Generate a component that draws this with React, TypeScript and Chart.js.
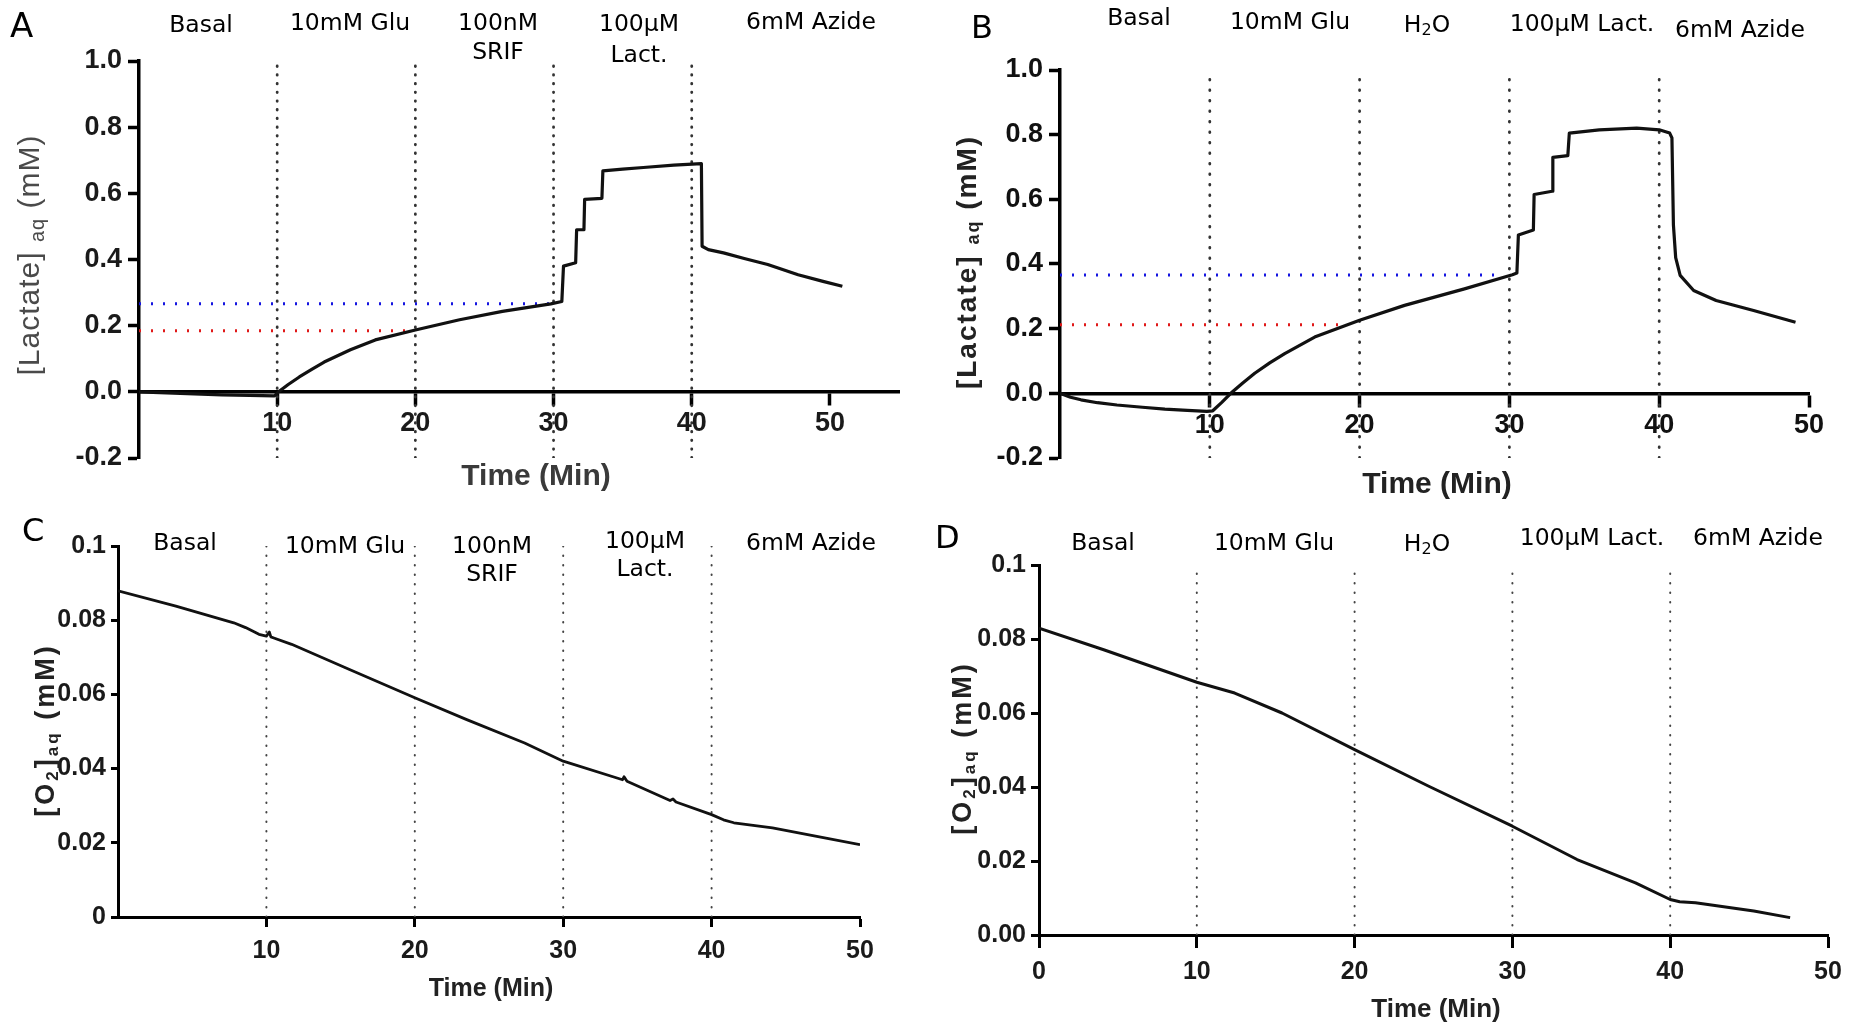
import React, { useEffect, useRef } from 'react';
import { Chart, registerables } from 'chart.js';
Chart.register(...registerables);

// ---------------- DATA ----------------
const timeA = [0, 2, 4, 6, 8, 9.8, 10.1, 10.8, 11.6, 12.5, 13.4, 15.3, 17.1, 20, 23.2, 26.3, 29.8, 30.6, 30.72, 31.6, 31.67, 32.2, 32.25, 33.5, 33.57, 35, 36.5, 38.7, 40.7, 40.75, 41.2, 42.3, 43.8, 45.5, 47.7, 49.5, 50.9];
const lactateA = [0, -0.003, -0.006, -0.009, -0.011, -0.012, 0, 0.022, 0.045, 0.068, 0.09, 0.127, 0.157, 0.187, 0.218, 0.243, 0.266, 0.273, 0.38, 0.39, 0.49, 0.49, 0.582, 0.585, 0.668, 0.673, 0.678, 0.685, 0.69, 0.44, 0.43, 0.42, 0.403, 0.385, 0.354, 0.334, 0.319];

const timeB = [0, 0.7, 1.4, 2.5, 3.8, 5.5, 7, 8.5, 9.8, 10.2, 10.8, 11.4, 12.2, 13, 14, 15, 17, 20, 23, 27, 30.2, 30.5, 30.6, 31.6, 31.65, 32.85, 32.9, 33.9, 34, 36, 38.5, 40, 40.7, 40.85, 40.95, 41.1, 41.4, 42.3, 43.8, 46.3, 49.1];
const lactateB = [0, -0.012, -0.02, -0.029, -0.036, -0.043, -0.049, -0.053, -0.056, -0.054, -0.028, 0, 0.032, 0.062, 0.094, 0.123, 0.174, 0.226, 0.272, 0.323, 0.367, 0.372, 0.49, 0.505, 0.615, 0.625, 0.73, 0.735, 0.805, 0.815, 0.82, 0.815, 0.805, 0.79, 0.52, 0.42, 0.365, 0.318, 0.287, 0.256, 0.22];

const timeC = [0, 3.9, 7.8, 8.6, 9.5, 10, 10.2, 10.3, 10.5, 11.7, 15.6, 20, 23.5, 27.4, 30, 34, 34.1, 34.3, 37.2, 37.4, 37.6, 40, 40.8, 41.5, 44.1, 47, 50];
const oxygenC = [0.0879, 0.0838, 0.0793, 0.078, 0.0762, 0.0757, 0.0768, 0.0755, 0.0752, 0.0735, 0.0667, 0.0591, 0.0532, 0.0469, 0.042, 0.037, 0.0378, 0.0366, 0.0314, 0.0318, 0.031, 0.0276, 0.0262, 0.0254, 0.024, 0.0218, 0.0195];

const timeD = [0, 4.1, 10, 12.4, 15.4, 20, 24.7, 30, 34.1, 37.8, 40, 40.6, 41.6, 45.3, 47.6];
const oxygenD = [0.0829, 0.0771, 0.0683, 0.0654, 0.06, 0.0501, 0.0402, 0.0294, 0.0204, 0.0141, 0.0096, 0.009, 0.0087, 0.0065, 0.0047];

const markerTimes = [10, 20, 30, 40];
const xTicksNoZero = [10, 20, 30, 40, 50];
const xTicksWithZero = [0, 10, 20, 30, 40, 50];
const lactateRange = [-0.2, 1.0];
const oxygenRange = [0, 0.1];
const yTicksLactate = [-0.2, 0, 0.2, 0.4, 0.6, 0.8, 1.0];
const yLabelsLactate = ['-0.2', '0.0', '0.2', '0.4', '0.6', '0.8', '1.0'];
const yTicksO2 = [0, 0.02, 0.04, 0.06, 0.08, 0.1];
const yLabelsO2C = ['0', '0.02', '0.04', '0.06', '0.08', '0.1'];
const yLabelsO2D = ['0.00', '0.02', '0.04', '0.06', '0.08', '0.1'];

// reference (dotted) levels: [level, end time]
const blueRefA = [0.266, 30.0];
const redRefA = [0.185, 19.4];
const blueRefB = [0.366, 29.4];
const redRefB = [0.212, 18.9];

// ---------------- DRAW HELPERS ----------------
type Seg = { t: string; size?: number; dy?: number };
type TextItem = {
  segs: Seg[]; x: number; y: number; size: number; family: string; weight?: string;
  color?: string; align?: 'left' | 'center'; rotate?: boolean; spacing?: number;
};

const SANS = '"DejaVu Sans", Verdana, sans-serif';
const ARIAL = '"Liberation Sans", Arial, sans-serif';

function drawRich(ctx: CanvasRenderingContext2D, it: TextItem) {
  ctx.save();
  ctx.fillStyle = it.color || '#000';
  ctx.textBaseline = 'alphabetic';
  ctx.textAlign = 'left';
  (ctx as any).letterSpacing = (it.spacing || 0) + 'px';
  const fontOf = (s: Seg) => `${it.weight || 'normal'} ${s.size ?? it.size}px ${it.family}`;
  let total = 0;
  const widths = it.segs.map((s) => {
    ctx.font = fontOf(s);
    const w = ctx.measureText(s.t).width;
    total += w;
    return w;
  });
  ctx.translate(it.x, it.y);
  if (it.rotate) ctx.rotate(-Math.PI / 2);
  let cx = it.align === 'left' ? 0 : -total / 2;
  it.segs.forEach((s, i) => {
    ctx.font = fontOf(s);
    ctx.fillText(s.t, cx, s.dy ?? 0);
    cx += widths[i];
  });
  ctx.restore();
}

const label = (t: string, x: number, y: number): TextItem => ({ segs: [{ t }], x, y, size: 23.5, family: SANS });
const h2o = (x: number, y: number): TextItem => ({ segs: [{ t: 'H' }, { t: '2', size: 16, dy: 3 }, { t: 'O' }], x, y, size: 23.5, family: SANS });
const letter = (t: string, x: number, y: number, size: number): TextItem => ({ segs: [{ t }], x, y, size, family: SANS, align: 'left' });

type Panel = {
  left: number; top: number; w: number; h: number;
  area: { l: number; t: number; r: number; b: number };
  time: number[]; values: number[];
  xMax: number; xTicks: number[];
  yRange: number[]; yTicks: number[]; yLabels: string[];
  tickSize: number; tickColor: string; axisW: number; xTickLen: number; yTickLen: number; xPad: number; yPad: number;
  lineW: number; markerW: number; markerDash: number[]; markerColor: string;
  refs: { lv: number[]; color: string }[];
  texts: TextItem[];
};

const W = 927, H = 513;

const panels: Panel[] = [
  {
    left: 0, top: 0, w: W, h: H,
    area: { l: 139, t: 61, r: 899, b: 458 },
    time: timeA, values: lactateA, xMax: 55, xTicks: xTicksNoZero,
    yRange: lactateRange, yTicks: yTicksLactate, yLabels: yLabelsLactate,
    tickSize: 27, tickColor: '#1a1a1a', axisW: 3.5, xTickLen: 12, yTickLen: 11, xPad: 4, yPad: 6,
    lineW: 3.2, markerW: 2.8, markerDash: [0.5, 8.2], markerColor: '#333',
    refs: [{ lv: blueRefA, color: '#1515e0' }, { lv: redRefA, color: '#e01818' }],
    texts: [
      letter('A', 10, 37, 34),
      label('Basal', 201, 32), label('10mM Glu', 350, 30), label('100nM', 498, 30), label('SRIF', 498, 59),
      label('100µM', 639, 31), label('Lact.', 639, 62), label('6mM Azide', 811, 29),
      { segs: [{ t: 'Time (Min)' }], x: 536, y: 485, size: 30, family: ARIAL, weight: 'bold', color: '#3a3a3a' },
      { segs: [{ t: '[Lactate]' }, { t: ' ' }, { t: 'aq', size: 20, dy: 5 }, { t: ' (mM)' }], x: 39, y: 255, size: 30, family: ARIAL, color: '#4a4a4a', rotate: true, spacing: 1 },
    ],
  },
  {
    left: 927, top: 0, w: W, h: H,
    area: { l: 133, t: 70, r: 882, b: 458 },
    time: timeB, values: lactateB, xMax: 50, xTicks: xTicksNoZero,
    yRange: lactateRange, yTicks: yTicksLactate, yLabels: yLabelsLactate,
    tickSize: 27, tickColor: '#111', axisW: 3.5, xTickLen: 12, yTickLen: 11, xPad: 4, yPad: 6,
    lineW: 3.2, markerW: 2.8, markerDash: [0.5, 10], markerColor: '#333',
    refs: [{ lv: blueRefB, color: '#1515e0' }, { lv: redRefB, color: '#e01818' }],
    texts: [
      letter('B', 44, 38, 32),
      label('Basal', 212, 25), label('10mM Glu', 363, 29), h2o(500, 32), label('100µM Lact.', 655, 31), label('6mM Azide', 813, 37),
      { segs: [{ t: 'Time (Min)' }], x: 510, y: 493, size: 30, family: ARIAL, weight: 'bold', color: '#222' },
      { segs: [{ t: '[Lactate]' }, { t: ' ' }, { t: 'aq', size: 18, dy: 3 }, { t: ' (mM)' }], x: 49, y: 262, size: 28, family: ARIAL, weight: 'bold', color: '#222', rotate: true, spacing: 2 },
    ],
  },
  {
    left: 0, top: 513, w: W, h: H,
    area: { l: 118, t: 33, r: 860, b: 404 },
    time: timeC, values: oxygenC, xMax: 50, xTicks: xTicksNoZero,
    yRange: oxygenRange, yTicks: yTicksO2, yLabels: yLabelsO2C,
    tickSize: 25, tickColor: '#1a1a1a', axisW: 3, xTickLen: 8, yTickLen: 7, xPad: 11, yPad: 5,
    lineW: 2.8, markerW: 2, markerDash: [0.5, 9], markerColor: '#444',
    refs: [],
    texts: [
      letter('C', 22, 28, 32),
      label('Basal', 185, 37), label('10mM Glu', 345, 40), label('100nM', 492, 40), label('SRIF', 492, 68),
      label('100µM', 645, 35), label('Lact.', 645, 63), label('6mM Azide', 811, 37),
      { segs: [{ t: 'Time (Min)' }], x: 491, y: 483, size: 25, family: ARIAL, weight: 'bold', color: '#222' },
      { segs: [{ t: '[O' }, { t: '2', size: 17, dy: 4 }, { t: ']' }, { t: 'aq', size: 17, dy: 4 }, { t: ' (mM)' }], x: 54, y: 217, size: 27, family: ARIAL, weight: 'bold', color: '#222', rotate: true, spacing: 3 },
    ],
  },
  {
    left: 927, top: 513, w: W, h: H,
    area: { l: 112, t: 52, r: 901, b: 422 },
    time: timeD, values: oxygenD, xMax: 50, xTicks: xTicksWithZero,
    yRange: oxygenRange, yTicks: yTicksO2, yLabels: yLabelsO2D,
    tickSize: 25, tickColor: '#1a1a1a', axisW: 3, xTickLen: 11, yTickLen: 8, xPad: 11, yPad: 5,
    lineW: 3, markerW: 2, markerDash: [0.5, 9], markerColor: '#444',
    refs: [],
    texts: [
      letter('D', 8, 35, 32),
      label('Basal', 176, 37), label('10mM Glu', 347, 37), h2o(500, 38), label('100µM Lact.', 665, 32), label('6mM Azide', 831, 32),
      { segs: [{ t: 'Time (Min)' }], x: 509, y: 504, size: 26, family: ARIAL, weight: 'bold', color: '#222' },
      { segs: [{ t: '[O' }, { t: '2', size: 17, dy: 4 }, { t: ']' }, { t: 'aq', size: 17, dy: 4 }, { t: ' (mM)' }], x: 44, y: 235, size: 27, family: ARIAL, weight: 'bold', color: '#222', rotate: true, spacing: 3 },
    ],
  },
];

function buildConfig(p: Panel): any {
  const datasets: any[] = [];
  datasets.push({
    data: p.time.map((t, i) => ({ x: t, y: p.values[i] })),
    borderColor: '#111', borderWidth: p.lineW, pointRadius: 0, tension: 0, order: 0,
    borderJoinStyle: 'round',
  });
  markerTimes.forEach((t) => {
    datasets.push({
      data: [{ x: t, y: p.yRange[0] }, { x: t, y: p.yRange[1] }],
      borderColor: p.markerColor, borderWidth: p.markerW, borderDash: p.markerDash, borderCapStyle: 'round',
      pointRadius: 0, order: 3,
    });
  });
  p.refs.forEach((r) => {
    datasets.push({
      data: [{ x: 0, y: r.lv[0] }, { x: r.lv[1], y: r.lv[0] }],
      borderColor: r.color, borderWidth: 3, borderDash: [2, 10], pointRadius: 0, order: 2,
    });
  });
  const textPlugin = {
    id: 'panelText',
    afterDraw(chart: any) {
      const ctx = chart.ctx as CanvasRenderingContext2D;
      p.texts.forEach((t) => drawRich(ctx, t));
    },
  };
  const tickFont = { family: ARIAL, size: p.tickSize, weight: 'bold' as const };
  return {
    type: 'line',
    data: { datasets },
    plugins: [textPlugin],
    options: {
      responsive: false, animation: false, devicePixelRatio: 1, events: [],
      layout: { padding: { left: 0, top: p.area.t, right: p.w - p.area.r, bottom: p.h - p.area.b } },
      plugins: { legend: { display: false }, tooltip: { enabled: false } },
      scales: {
        x: {
          type: 'linear', position: { y: 0 }, min: 0, max: p.xMax,
          afterBuildTicks: (ax: any) => { ax.ticks = p.xTicks.map((v) => ({ value: v })); },
          afterFit: (ax: any) => { ax.height = 0; },
          border: { display: true, width: p.axisW, color: '#000' },
          grid: { display: true, drawOnChartArea: false, drawTicks: true, tickLength: p.xTickLen, tickWidth: p.axisW, tickColor: '#000' },
          ticks: { font: tickFont, color: p.tickColor, padding: p.xPad, maxRotation: 0, autoSkip: false, callback: (v: number) => String(v) },
        },
        y: {
          type: 'linear', position: 'left', min: p.yRange[0], max: p.yRange[1],
          afterBuildTicks: (ax: any) => { ax.ticks = p.yTicks.map((v) => ({ value: v })); },
          afterFit: (ax: any) => { ax.width = p.area.l; },
          border: { display: true, width: p.axisW, color: '#000' },
          grid: { display: true, drawOnChartArea: false, drawTicks: true, tickLength: p.yTickLen, tickWidth: p.axisW, tickColor: '#000' },
          ticks: { font: tickFont, color: p.tickColor, padding: p.yPad, autoSkip: false, callback: (_v: number, i: number) => p.yLabels[i] },
        },
      },
    },
  };
}

function PanelChart({ p }: { p: Panel }) {
  const ref = useRef<HTMLCanvasElement | null>(null);
  useEffect(() => {
    if (!ref.current) return;
    const chart = new Chart(ref.current, buildConfig(p));
    return () => chart.destroy();
  }, [p]);
  return (
    <canvas
      ref={ref}
      width={p.w}
      height={p.h}
      style={{ position: 'absolute', left: p.left, top: p.top, width: p.w, height: p.h }}
    />
  );
}

export default function App() {
  return (
    <div style={{ position: 'absolute', left: 0, top: 0, width: 1854, height: 1026, background: '#fff', overflow: 'hidden' }}>
      {panels.map((p, i) => <PanelChart key={i} p={p} />)}
    </div>
  );
}
